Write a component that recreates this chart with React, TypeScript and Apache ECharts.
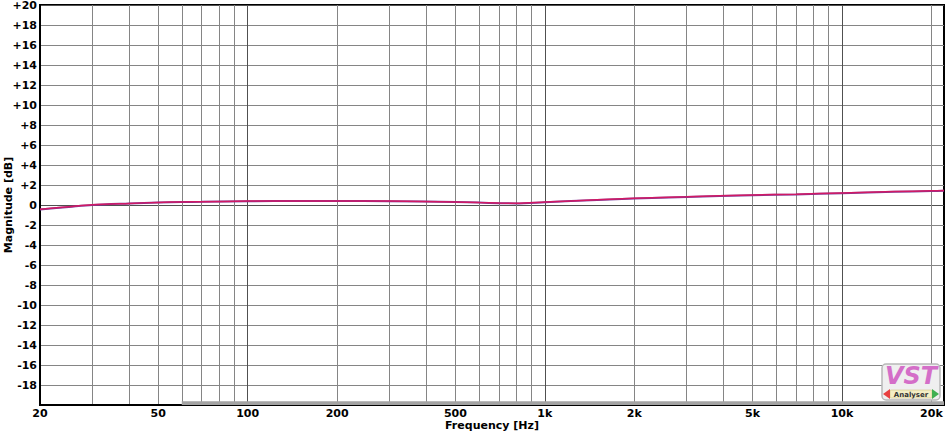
import React, { useEffect, useRef } from 'react';
import * as echarts from 'echarts';

// Frequency response
const freqs = [20, 25, 30, 40, 50, 60, 70, 100, 150, 200, 300, 500, 600, 700, 800, 1000, 1500, 2000, 3000, 5000, 7000, 10000, 15000, 20000, 22050];
const leftDb = [-0.45, -0.2, 0.0, 0.15, 0.25, 0.3, 0.32, 0.38, 0.4, 0.4, 0.38, 0.3, 0.24, 0.18, 0.16, 0.28, 0.5, 0.65, 0.8, 0.98, 1.06, 1.18, 1.32, 1.4, 1.42];
const rightDb = [-0.42, -0.18, 0.02, 0.16, 0.26, 0.31, 0.33, 0.39, 0.41, 0.41, 0.39, 0.31, 0.25, 0.2, 0.18, 0.3, 0.52, 0.67, 0.82, 1.0, 1.08, 1.2, 1.34, 1.42, 1.44];

const gridFreqs = [
  30, 40, 50, 60, 70, 80, 90, 100,
  200, 300, 400, 500, 600, 700, 800, 900, 1000,
  2000, 3000, 4000, 5000, 6000, 7000, 8000, 9000, 10000,
  20000,
];
const majorFreqs = [100, 1000, 10000];
const labelFreqs = [20, 50, 100, 200, 500, 1000, 2000, 5000, 10000, 20000];

const fMin = 20;
const fMax = 22050;
const dbMin = -20;
const dbMax = 20;
const dbStep = 2;

// grey band along the bottom of the plot
const bandFrom = 60;
const bandTo = 22050;
const bandTop = -19.62;

const FONT = 'DejaVu Sans';

export default function App() {
  const ref = useRef<HTMLDivElement>(null);
  useEffect(() => {
    if (!ref.current) return;
    const chart = echarts.init(ref.current, null, { renderer: 'svg' });
    const fmtF = (v: number) => {
      const r = Math.round(v);
      return r >= 1000 ? r / 1000 + 'k' : String(r);
    };
    const option: any = {
      animation: false,
      backgroundColor: '#fff',
      grid: {
        left: 40, right: 7, top: 5, bottom: 27,
        containLabel: false, outerBoundsMode: 'none',
        show: true, borderColor: '#000', borderWidth: 2, backgroundColor: 'transparent',
      },
      xAxis: [
        {
          type: 'log', logBase: 10, min: fMin, max: fMax,
          name: 'Frequency [Hz]', nameLocation: 'middle', nameGap: 15, nameMoveOverlap: false,
          nameTextStyle: { fontFamily: FONT, fontWeight: 'bold', fontSize: 11, color: '#000', verticalAlign: 'top' },
          axisLine: { show: true, onZero: false, lineStyle: { color: '#000', width: 2 } },
          axisTick: { show: false, customValues: gridFreqs },
          axisLabel: {
            customValues: labelFreqs, formatter: fmtF, margin: 3,
            fontFamily: FONT, fontWeight: 'bold', fontSize: 11, color: '#000',
          },
          splitLine: { show: true, lineStyle: { color: '#858585', width: 1 } },
          minorSplitLine: { show: false },
        },
        {
          type: 'log', logBase: 10, min: fMin, max: fMax, position: 'bottom',
          axisLine: { show: false },
          axisTick: { show: false, customValues: majorFreqs },
          axisLabel: { show: false },
          splitLine: { show: true, lineStyle: { color: '#505050', width: 1 } },
        },
      ],
      yAxis: [
        {
          type: 'value', min: dbMin, max: dbMax, interval: dbStep,
          name: 'Magnitude [dB]', nameLocation: 'middle', nameGap: 26, nameMoveOverlap: false,
          nameTextStyle: { fontFamily: FONT, fontWeight: 'bold', fontSize: 11, color: '#000' },
          axisLine: { show: true, onZero: false, lineStyle: { color: '#000', width: 2 } },
          axisTick: { show: false },
          axisLabel: {
            margin: 3, fontFamily: FONT, fontWeight: 'bold', fontSize: 11, color: '#000',
            formatter: (v: number) => (v === dbMin ? '' : v > 0 ? '+' + v : String(v)),
          },
          splitLine: { show: true, lineStyle: { color: '#858585', width: 1 } },
        },
        {
          type: 'value', min: dbMin, max: dbMax, interval: 20, position: 'left',
          axisLine: { show: false }, axisTick: { show: false }, axisLabel: { show: false },
          splitLine: { show: true, lineStyle: { color: '#505050', width: 1 } },
        },
      ],
      series: [
        {
          type: 'line', xAxisIndex: 0, yAxisIndex: 0, silent: true,
          data: [],
          markArea: {
            silent: true,
            itemStyle: { color: '#a3a3a3' },
            data: [[{ xAxis: bandFrom, yAxis: dbMin }, { xAxis: bandTo, yAxis: bandTop }]],
          },
        },
        {
          name: 'L', type: 'line', xAxisIndex: 0, yAxisIndex: 0,
          showSymbol: false, smooth: 0.3,
          lineStyle: { color: '#7a3a9a', width: 2 },
          data: freqs.map((f, i) => [f, leftDb[i]]),
        },
        {
          name: 'R', type: 'line', xAxisIndex: 0, yAxisIndex: 0,
          showSymbol: false, smooth: 0.3,
          lineStyle: { color: '#e0145a', width: 1.5, opacity: 0.85 },
          data: freqs.map((f, i) => [f, rightDb[i]]),
        },
      ],
      graphic: [
        {
          type: 'rect', z: 100, x: 882, y: 364,
          shape: { x: 0, y: 0, width: 58, height: 36, r: 4 },
          style: { fill: '#efefef', stroke: '#b8b8b8', lineWidth: 1.5 },
        },
        {
          type: 'text', z: 101, x: 911, y: 364,
          style: {
            text: 'VST', align: 'center', verticalAlign: 'top',
            fontFamily: FONT, fontWeight: 'bold', fontStyle: 'italic', fontSize: 24,
            fill: '#d46ec8',
          },
        },
        {
          type: 'rect', z: 101, x: 890, y: 390,
          shape: { x: 0, y: 0, width: 42, height: 8, r: 1 },
          style: { fill: '#f4eec4', stroke: '#c8b870', lineWidth: 0.5 },
        },
        {
          type: 'polygon', z: 101,
          shape: { points: [[883, 394], [890, 389], [890, 399]] },
          style: { fill: '#e84040' },
        },
        {
          type: 'polygon', z: 101,
          shape: { points: [[939, 394], [932, 389], [932, 399]] },
          style: { fill: '#40b050' },
        },
        {
          type: 'text', z: 102, x: 911, y: 394.5,
          style: {
            text: 'Analyser', align: 'center', verticalAlign: 'middle',
            fontFamily: FONT, fontWeight: 'bold', fontSize: 7, fill: '#333',
          },
        },
      ],
    };
    chart.setOption(option);
    return () => chart.dispose();
  }, []);
  return <div ref={ref} style={{ width: 951, height: 432, position: 'absolute', left: 0, top: 0 }} />;
}
